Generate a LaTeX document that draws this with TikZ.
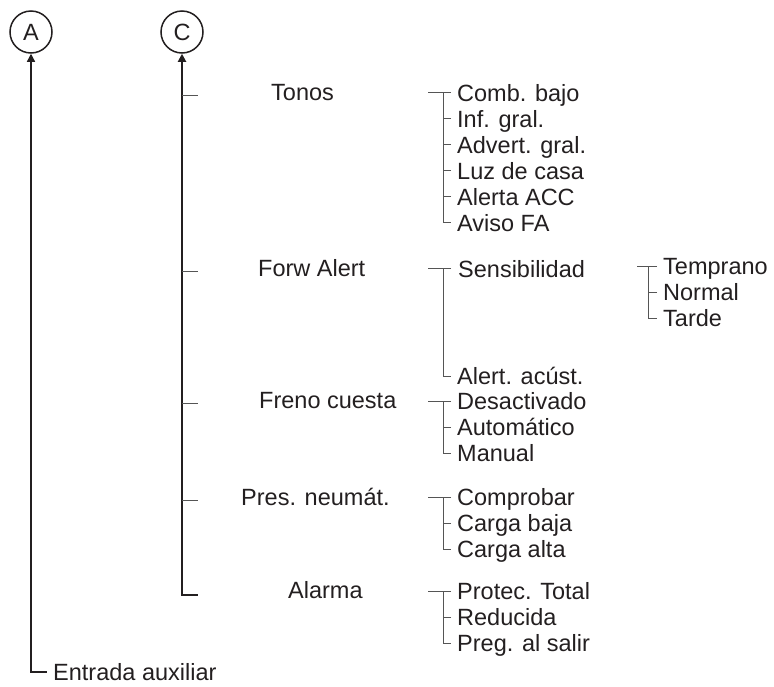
\documentclass[tikz,border=0pt]{standalone}
\usepackage{fontspec}
\setmainfont{Liberation Sans}
\usepackage{tikz}
\usetikzlibrary{positioning, arrows.meta}
\definecolor{ink}{HTML}{231F20}
\definecolor{rule}{HTML}{555555}
\tikzstyle{every node}=[font=\fontsize{23.5}{28}\selectfont, text=ink]
\tikzstyle{menu}=[anchor=west, inner xsep=6pt, inner ysep=0pt, text height=21pt, text depth=4pt]
\tikzstyle{letter}=[draw=ink, circle, minimum size=42pt, inner sep=0pt, line width=1.5pt]
\tikzstyle{trunk}=[draw=ink, line width=1.8pt]
\tikzstyle{bracket}=[draw=rule, line width=1pt]
\tikzset{nextitem/.style={below=26pt of #1.west, anchor=west}}

\begin{document}
\begin{tikzpicture}[x=1pt, y=-1pt, >={Triangle[width=8pt,length=8pt]}]
            \useasboundingbox (0,0) rectangle (774,686);
            % circles and trunks
            \node[letter] (A) at (31,32) {A};
            \node[letter] (C) at (182,32) {C};
            \node[menu, text height=17pt, text depth=0pt] (aux) at (47,672) {Entrada auxiliar};
            \draw[trunk, line width=1.3pt, <-] (A) |- (aux);
            \coordinate (kTon) at (198,95);
            \coordinate (kForw) at (198,271);
            \coordinate (kFre) at (198,403);
            \coordinate (kPre) at (198,500);
            \coordinate (kAla) at (198,595);
            \draw[trunk, <-] (C) |- (kAla);
            \draw[bracket] (kTon -| C) -- (kTon);
            \draw[bracket] (kForw -| C) -- (kForw);
            \draw[bracket] (kFre -| C) -- (kFre);
            \draw[bracket] (kPre -| C) -- (kPre);
            % menu entries
            \node[menu] (tonos) at (265,92) {Tonos};
            \node[menu] (forw) at (252,268) {Forw Alert};
            \node[menu] (freno) at (253,400) {Freno cuesta};
            \node[menu] (pres) at (235,497) {Pres. neumát.};
            \node[menu] (alarma) at (282,590) {Alarma};
            % Tonos
            \node[menu] (tonA) at (451,92.5) {Comb. bajo};
            \node[menu, nextitem=tonA] (tonB) {Inf. gral.};
            \node[menu, nextitem=tonB] (tonC) {Advert. gral.};
            \node[menu, nextitem=tonC] (tonD) {Luz de casa};
            \node[menu, nextitem=tonD] (tonE) {Alerta ACC};
            \node[menu, nextitem=tonE] (tonF) {Aviso FA};
            \draw[bracket] (tonA.west) -- ++(-23,0);
            \draw[bracket] ([xshift=-8pt]tonA.west) |- (tonF.west);
            \draw[bracket] (tonB.west) -- ++(-8,0);
            \draw[bracket] (tonC.west) -- ++(-8,0);
            \draw[bracket] (tonD.west) -- ++(-8,0);
            \draw[bracket] (tonE.west) -- ++(-8,0);
            % Forw Alert
            \node[menu] (forA) at (452,268.5) {Sensibilidad};
            \node[menu] (forB) at (451,376) {Alert. acúst.};
            \draw[bracket] ([xshift=-1pt]forA.west) -- ++(-23,0);
            \draw[bracket] ([xshift=-9pt]forA.west) |- (forB.west);
            \node[menu] (senA) at (657,266) {Temprano};
            \node[menu, nextitem=senA] (senB) {Normal};
            \node[menu, nextitem=senB] (senC) {Tarde};
            \draw[bracket] (senA.west) -- ++(-20,0);
            \draw[bracket] ([xshift=-9pt]senA.west) |- (senC.west);
            \draw[bracket] (senB.west) -- ++(-9,0);
            % Freno cuesta
            \node[menu] (freA) at (451,401) {Desactivado};
            \node[menu, nextitem=freA] (freB) {Automático};
            \node[menu, nextitem=freB] (freC) {Manual};
            \draw[bracket] (freA.west) -- ++(-23,0);
            \draw[bracket] ([xshift=-8pt]freA.west) |- (freC.west);
            \draw[bracket] (freB.west) -- ++(-8,0);
            % Pres. neumat.
            \node[menu] (preA) at (451,497) {Comprobar};
            \node[menu, nextitem=preA] (preB) {Carga baja};
            \node[menu, nextitem=preB] (preC) {Carga alta};
            \draw[bracket] (preA.west) -- ++(-23,0);
            \draw[bracket] ([xshift=-8pt]preA.west) |- (preC.west);
            \draw[bracket] (preB.west) -- ++(-8,0);
            % Alarma
            \node[menu] (alaA) at (451,591) {Protec. Total};
            \node[menu, nextitem=alaA] (alaB) {Reducida};
            \node[menu, nextitem=alaB] (alaC) {Preg. al salir};
            \draw[bracket] (alaA.west) -- ++(-23,0);
            \draw[bracket] ([xshift=-8pt]alaA.west) |- (alaC.west);
            \draw[bracket] (alaB.west) -- ++(-8,0);
        \end{tikzpicture}
\end{document}
